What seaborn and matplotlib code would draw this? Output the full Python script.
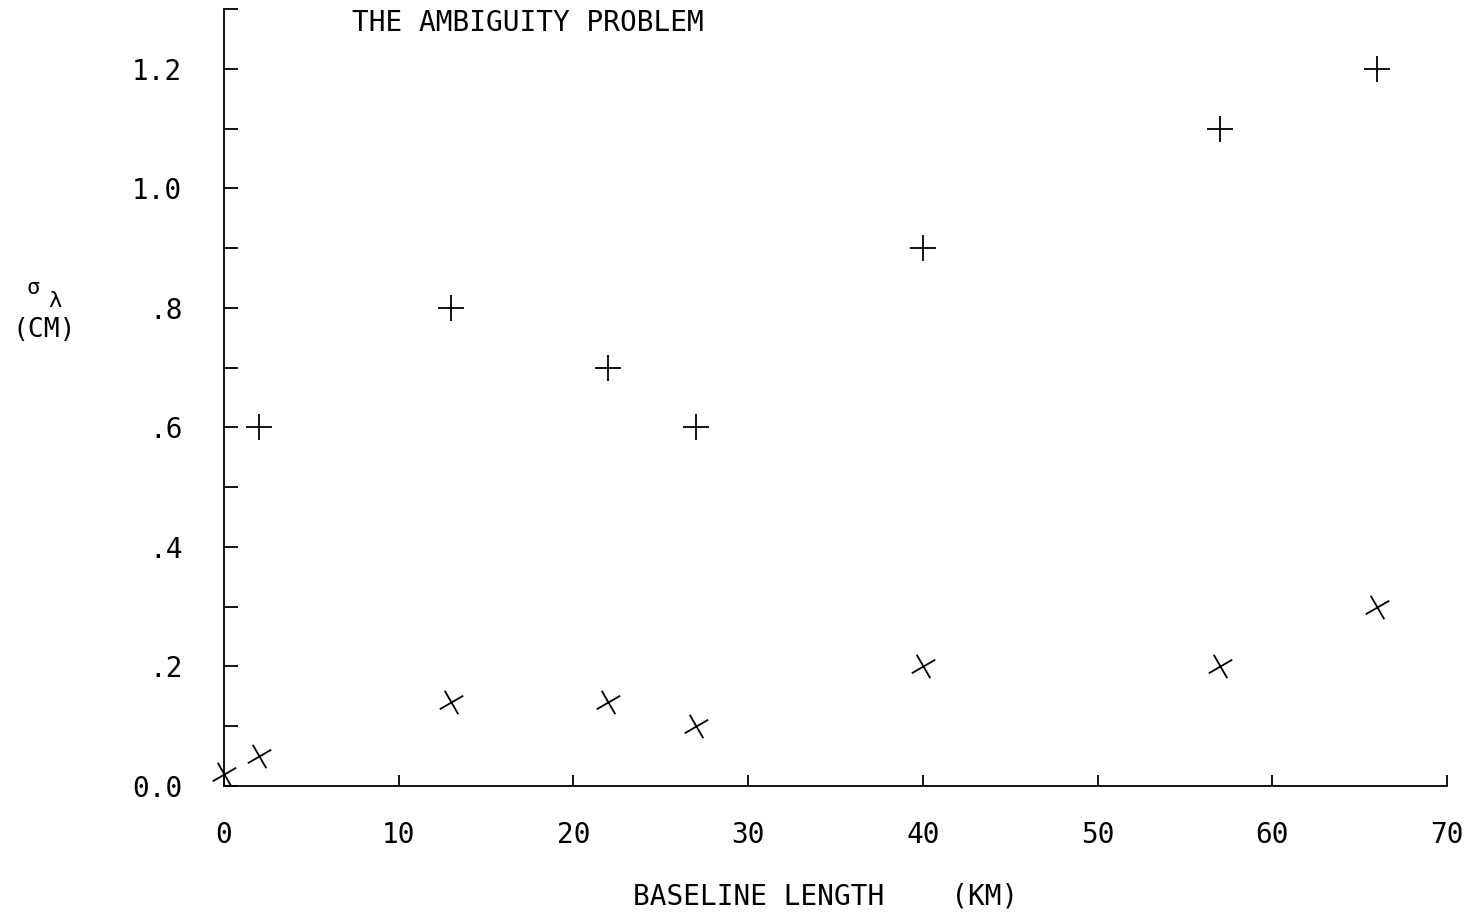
import matplotlib
matplotlib.use("Agg")
import matplotlib.pyplot as plt
import seaborn as sns
import pandas as pd
from matplotlib.markers import MarkerStyle
from matplotlib.transforms import Affine2D

# values
baseline_x = [0, 2, 13, 22, 27, 40, 57, 66]
sigma_x = [0.02, 0.05, 0.14, 0.14, 0.10, 0.20, 0.20, 0.30]
baseline_plus = [2, 13, 22, 27, 40, 57, 66]
sigma_plus = [0.60, 0.80, 0.70, 0.60, 0.90, 1.10, 1.20]

xtick_vals = [0, 10, 20, 30, 40, 50, 60, 70]
xtick_labels = ["0", "10", "20", "30", "40", "50", "60", "70"]
ytick_vals = [0.0, 0.2, 0.4, 0.6, 0.8, 1.0, 1.2]
ytick_labels = ["0.0", ".2", ".4", ".6", ".8", "1.0", "1.2"]
yminor_vals = [0.1, 0.3, 0.5, 0.7, 0.9, 1.1, 1.3]

sns.set_style("ticks")
plt.rcParams["font.family"] = ["DejaVu Sans Mono", "DejaVu Sans"]
plt.rcParams["text.color"] = "black"

df_x = pd.DataFrame({"km": baseline_x, "sigma": sigma_x})
df_plus = pd.DataFrame({"km": baseline_plus, "sigma": sigma_plus})

fig = plt.figure(figsize=(14.8, 9.17), dpi=100)
ax = fig.add_axes([0.1514, 0.1429, 0.8263, 0.8471])

# crosses are tilted, not a plain 45 degree x
tilted = MarkerStyle("+", transform=Affine2D().rotate_deg(30))

sns.scatterplot(data=df_plus, x="km", y="sigma", marker="+", s=360,
                color="black", linewidth=1.3, ax=ax, clip_on=False)
sns.scatterplot(data=df_x, x="km", y="sigma", marker=tilted, s=380,
                color="black", linewidth=1.3, ax=ax, clip_on=False)

ax.set_xlim(0, 70)
ax.set_ylim(0, 1.3)
sns.despine(ax=ax)
for side in ["left", "bottom"]:
    ax.spines[side].set_linewidth(1.3)
    ax.spines[side].set_color("black")

ax.set_xticks(xtick_vals)
ax.set_xticklabels(xtick_labels, fontsize=20)
ax.set_yticks(ytick_vals)
ax.set_yticklabels(ytick_labels, fontsize=20)
ax.set_yticks(yminor_vals, minor=True)
ax.tick_params(axis="x", direction="in", length=8, width=1.3, pad=25, colors="black")
ax.tick_params(axis="y", which="both", direction="in", length=10, width=1.3, pad=30,
               colors="black")
ax.set_xlabel("")
ax.set_ylabel("")

fig.text(352 / 1480, 1 - 23 / 917, "THE AMBIGUITY PROBLEM", fontsize=20,
         ha="left", va="center")
fig.text(826 / 1480, 1 - 897 / 917, "BASELINE LENGTH    (KM)", fontsize=20,
         ha="center", va="center")
fig.text(33 / 1480, 1 - 288 / 917, "σ", fontsize=16, ha="center", va="center")
fig.text(55 / 1480, 1 - 301 / 917, "λ", fontsize=16, ha="center", va="center")
fig.text(44 / 1480, 1 - 330 / 917, "(CM)", fontsize=19, ha="center", va="center")

fig.savefig("out.png", dpi=100)
